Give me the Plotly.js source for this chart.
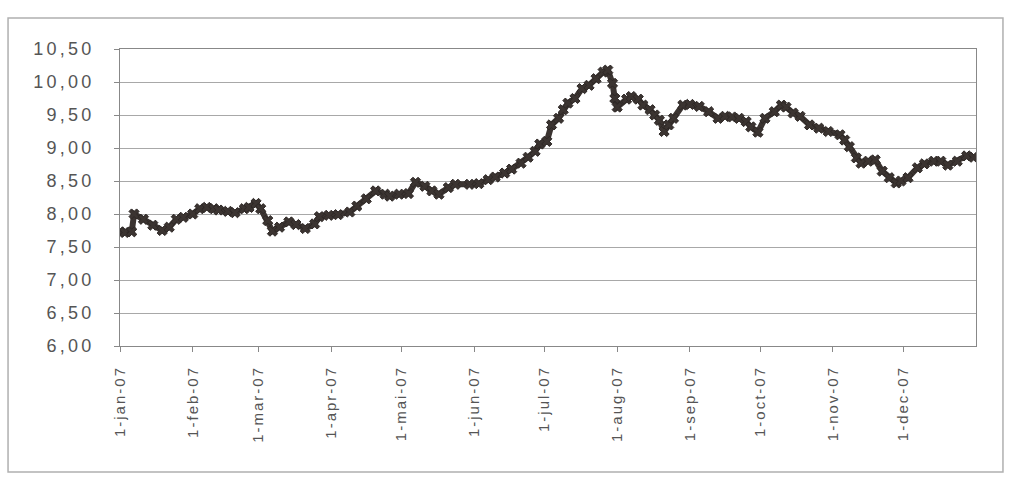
<!DOCTYPE html>
<html>
<head>
<meta charset="utf-8">
<script src="https://cdn.plot.ly/plotly-3.0.1.min.js"></script>
<style>
html, body { margin: 0; padding: 0; background: #ffffff; }
#chart { width: 1010px; height: 487px; }
#chart .ytick text { letter-spacing: 3.2px; }
#chart .xtick text { letter-spacing: 2px; }
</style>
</head>
<body>
<div id="chart"></div>
<script>
// Dates of the plotted observations (2007)
const dates = [
  '2007-01-01','2007-01-03','2007-01-06','2007-01-07','2007-01-11','2007-01-15','2007-01-19','2007-01-22','2007-01-25','2007-01-28',
  '2007-02-01','2007-02-04','2007-02-07','2007-02-10','2007-02-12','2007-02-16','2007-02-19','2007-02-23','2007-02-25','2007-02-28',
  '2007-03-02','2007-03-05','2007-03-07','2007-03-10','2007-03-14','2007-03-17','2007-03-21','2007-03-25','2007-03-27','2007-03-31',
  '2007-04-04','2007-04-09','2007-04-12','2007-04-16','2007-04-20','2007-04-24','2007-04-26','2007-04-30',
  '2007-05-04','2007-05-07','2007-05-11','2007-05-14','2007-05-17','2007-05-21','2007-05-24','2007-05-30',
  '2007-06-03','2007-06-07','2007-06-10','2007-06-14','2007-06-17','2007-06-21','2007-06-24','2007-06-27','2007-06-29',
  '2007-07-02','2007-07-04','2007-07-07','2007-07-09','2007-07-11','2007-07-14','2007-07-17','2007-07-20','2007-07-23','2007-07-26','2007-07-28','2007-07-30','2007-07-31',
  '2007-08-01','2007-08-05','2007-08-07','2007-08-10','2007-08-12','2007-08-15','2007-08-17','2007-08-19','2007-08-21','2007-08-23','2007-08-25','2007-08-29',
  '2007-09-01','2007-09-05','2007-09-09','2007-09-13','2007-09-16','2007-09-19','2007-09-22','2007-09-25','2007-09-27','2007-09-30',
  '2007-10-03','2007-10-07','2007-10-10','2007-10-12','2007-10-15','2007-10-18','2007-10-22','2007-10-26','2007-10-30',
  '2007-11-04','2007-11-06','2007-11-08','2007-11-11','2007-11-13','2007-11-16','2007-11-19','2007-11-22','2007-11-25','2007-11-28','2007-11-30',
  '2007-12-03','2007-12-07','2007-12-10','2007-12-14','2007-12-17','2007-12-20','2007-12-24','2007-12-28','2007-12-31'
];

// Values
const values = [
  7.73,7.72,7.73,8.00,7.92,7.83,7.75,7.80,7.92,7.95,
  8.00,8.08,8.10,8.08,8.06,8.04,8.02,8.08,8.10,8.16,
  8.08,7.90,7.74,7.80,7.88,7.84,7.78,7.85,7.96,7.98,
  7.99,8.03,8.12,8.23,8.35,8.30,8.27,8.30,
  8.31,8.48,8.42,8.35,8.30,8.40,8.45,8.45,
  8.46,8.52,8.56,8.62,8.68,8.77,8.86,8.95,9.06,
  9.10,9.35,9.45,9.58,9.68,9.75,9.90,9.95,10.05,10.15,10.18,9.98,9.75,
  9.62,9.74,9.78,9.74,9.65,9.58,9.50,9.42,9.25,9.35,9.45,9.65,
  9.66,9.63,9.55,9.45,9.48,9.47,9.45,9.40,9.32,9.24,
  9.45,9.55,9.65,9.62,9.53,9.48,9.35,9.30,9.25,
  9.20,9.12,9.02,8.85,8.77,8.80,8.82,8.65,8.55,8.47,8.50,
  8.55,8.70,8.76,8.80,8.80,8.74,8.80,8.88,8.86
];

// X-axis tick positions and labels
const monthTicks = ['2007-01-01','2007-02-01','2007-03-01','2007-04-01','2007-05-01','2007-06-01',
                    '2007-07-01','2007-08-01','2007-09-01','2007-10-01','2007-11-01','2007-12-01'];
const monthLabels = ['1-jan-07','1-feb-07','1-mar-07','1-apr-07','1-mai-07','1-jun-07',
                     '1-jul-07','1-aug-07','1-sep-07','1-oct-07','1-nov-07','1-dec-07'];

// Y-axis ticks
const yTicks = [6.0, 6.5, 7.0, 7.5, 8.0, 8.5, 9.0, 9.5, 10.0, 10.5];
const yLabels = ['6,00','6,50','7,00','7,50','8,00','8,50','9,00','9,50','10,00','10,50'];

const trace = {
  x: dates,
  y: values,
  type: 'scatter',
  mode: 'lines+markers',
  line: { color: '#3b3431', width: 6 },
  marker: { symbol: 'x', size: 9, color: '#3b3431', line: { width: 1, color: '#2e2826' } },
  hoverinfo: 'x+y',
  showlegend: false
};

const layout = {
  width: 1010,
  height: 487,
  margin: { l: 120, r: 34, t: 49, b: 141 },
  paper_bgcolor: '#ffffff',
  plot_bgcolor: '#ffffff',
  font: { family: 'Liberation Sans, Arial, sans-serif', color: '#555555' },
  xaxis: {
    type: 'date',
    range: ['2007-01-01', '2008-01-01'],
    tickmode: 'array',
    tickvals: monthTicks,
    ticktext: monthLabels,
    tickangle: -90,
    tickfont: { size: 15, color: '#555555' },
    ticks: 'outside',
    ticklen: 5,
    tickcolor: '#888888',
    ticklabelstandoff: 8,
    showgrid: false,
    zeroline: false,
    showline: true,
    linecolor: '#888888',
    linewidth: 1,
    mirror: true
  },
  yaxis: {
    range: [6.0, 10.5],
    tickmode: 'array',
    tickvals: yTicks,
    ticktext: yLabels,
    tickfont: { size: 18, color: '#555555' },
    ticks: 'outside',
    ticklen: 5,
    tickcolor: '#888888',
    ticklabelstandoff: 16,
    showgrid: true,
    gridcolor: '#a8a8a8',
    gridwidth: 1,
    zeroline: false,
    showline: true,
    linecolor: '#888888',
    linewidth: 1,
    mirror: true
  },
  shapes: [
    {
      type: 'rect', xref: 'paper', yref: 'paper',
      x0: -0.1308, x1: 1.0315, y0: -0.424, y1: 1.104,
      line: { color: '#b0b0b0', width: 1.5 },
      fillcolor: 'rgba(0,0,0,0)',
      layer: 'below'
    }
  ]
};

Plotly.newPlot('chart', [trace], layout, { displayModeBar: false, staticPlot: true });
</script>
</body>
</html>
